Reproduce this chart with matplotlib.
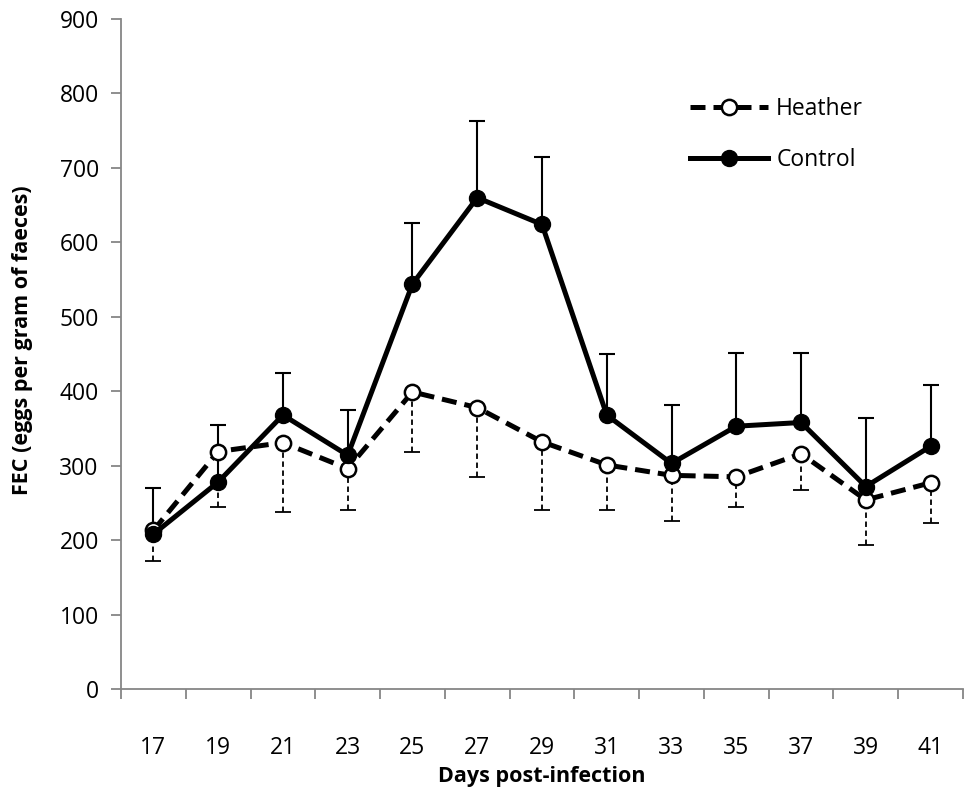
import matplotlib
matplotlib.use("Agg")
import matplotlib.pyplot as plt
import numpy as np

days = ["17", "19", "21", "23", "25", "27", "29", "31", "33", "35", "37", "39", "41"]
heather = [213, 319, 331, 296, 399, 378, 332, 301, 287, 285, 316, 254, 277]
heather_lower = [172, 244, 238, 241, 319, 285, 241, 240, 226, 244, 267, 193, 223]
control = [208, 278, 368, 314, 544, 660, 624, 368, 303, 353, 358, 272, 326]
control_upper = [270, 355, 425, 375, 626, 763, 715, 450, 381, 452, 452, 364, 408]

plt.rcParams['font.family'] = ['Open Sans', 'DejaVu Sans']

fig = plt.figure(figsize=(9.66, 7.9), dpi=100)
ax = fig.add_axes([121/966, 1-689/790, (963-121)/966, (689-19)/790])

x = np.arange(len(days))
h = np.array(heather); hl = np.array(heather_lower)
c = np.array(control); cu = np.array(control_upper)

# Heather error bars (downward, dotted)
eb = ax.errorbar(x, h, yerr=[h - hl, np.zeros_like(h)], fmt='none', ecolor='black',
                 elinewidth=1.3, capsize=6, capthick=1.3, zorder=2)
for coll in eb[2]:
    coll.set_linestyle((0, (3, 2)))
# Control error bars (upward, solid)
ax.errorbar(x, c, yerr=[np.zeros_like(c), cu - c], fmt='none', ecolor='black',
            elinewidth=1.5, capsize=6, capthick=1.5, zorder=2)

ax.plot(x, h, linestyle=(0, (3, 1.6)), color='black', linewidth=3.6, marker='o',
        markersize=11, markerfacecolor='white', markeredgecolor='black',
        markeredgewidth=1.8, label='Heather', zorder=3)
ax.plot(x, c, linestyle='-', color='black', linewidth=3.6, marker='o',
        markersize=11.5, markerfacecolor='black', markeredgecolor='black',
        label='Control', zorder=4)

ax.set_xlim(-0.5, len(days) - 0.5)
ax.set_ylim(0, 900)
ax.set_yticks(np.arange(0, 901, 100))
ax.set_xticks(x)
ax.set_xticklabels(days)
ax.set_xticks(np.arange(-0.5, len(days), 1), minor=True)
ax.tick_params(axis='x', which='major', length=0, pad=34, labelsize=16.5)
ax.tick_params(axis='x', which='minor', length=7, color='#868686', width=1.3, direction='out')
ax.tick_params(axis='y', length=7, color='#868686', width=1.3, direction='out', labelsize=16.5, pad=9)

for s in ['top', 'right']:
    ax.spines[s].set_visible(False)
for s in ['left', 'bottom']:
    ax.spines[s].set_color('#868686')
    ax.spines[s].set_linewidth(1.3)

ax.set_xlabel('Days post-infection', fontsize=15.5, fontweight='bold', labelpad=4)
ax.set_ylabel('FEC (eggs per gram of faeces)', fontsize=15.5, fontweight='bold')
ax.yaxis.set_label_coords(-0.104, 0.52)

ax.legend(loc='upper left', bbox_to_anchor=(0.676, 0.884), frameon=False, fontsize=16.5,
          handlelength=3.4, labelspacing=1.2, handletextpad=0.35, borderpad=0, borderaxespad=0)

fig.savefig('out.png', dpi=100)
